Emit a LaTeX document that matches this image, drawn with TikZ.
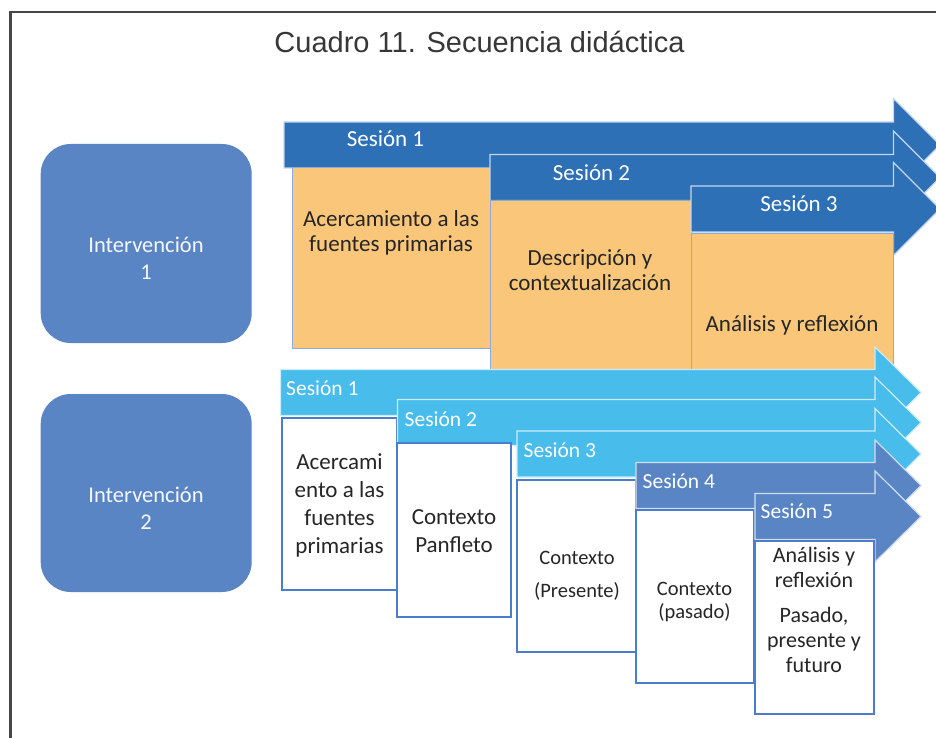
\documentclass[tikz,border=0pt]{standalone}
\usepackage{fontspec}
\setmainfont{Carlito}
\newfontfamily\titlefont{Liberation Sans}
\definecolor{darkblue}{RGB}{46,112,182}
\definecolor{orangebox}{RGB}{250,198,122}
\definecolor{lightblue}{RGB}{72,188,235}
\definecolor{midblue}{RGB}{90,133,196}
\definecolor{boxline}{RGB}{74,126,204}
\definecolor{orangeline}{RGB}{140,170,220}
\definecolor{framegray}{RGB}{70,70,70}
\definecolor{titlegray}{RGB}{55,55,55}
\definecolor{txtgray}{RGB}{38,38,38}
\newcommand\sesarrow[6]{% color, left x, center y, base x, tip x, head half
  \filldraw[fill=#1, draw=white!72!#1, line width=1.2pt, line join=miter]
    (#2,#3-23) -- (#4,#3-23) -- (#4,#3-#6) -- (#5,#3) -- (#4,#3+#6)
    -- (#4,#3+23) -- (#2,#3+23) -- cycle;}
\begin{document}
\begin{tikzpicture}[x=1pt,y=-1pt,
  ibox/.style={fill=midblue, rounded corners=30pt, inner sep=0pt, outer sep=0pt},
  itext/.style={text=white!94!midblue, align=center, font=\fontsize{22.5}{27}\selectfont},
  obox/.style={fill=orangebox, draw=orangeline, line width=0.9pt, inner sep=0pt, outer sep=0pt},
  wbox/.style={fill=white, draw=boxline, line width=1.4pt, inner sep=0pt, outer sep=0pt},
  btext/.style={text=txtgray, align=center, inner sep=0pt},
  slabel/.style={text=white, inner sep=0pt, font=\fontsize{23}{26}\selectfont},
  llabel/.style={text=white, inner sep=0pt, anchor=west, font=\fontsize{21.5}{24}\selectfont}]
\useasboundingbox (0,0) rectangle (936,738);
\fill[white] (0,0) rectangle (936,738);
% frame
\draw[framegray, line width=2.5pt] (10.3,738) -- (10.3,12) -- (937,12);
% title
\node[anchor=base, text=titlegray, inner sep=0pt, font=\titlefont\fontsize{29}{34}\selectfont] (title) at (479.5,53) {Cuadro 11. Secuencia didáctica};
% intervention boxes
\node[ibox, minimum width=211pt, minimum height=199pt] (i1) at (146.2,243.5) {};
\node[itext] (i1t) at (146,258) {Intervención\\1};
\node[ibox, minimum width=211pt, minimum height=198pt] (i2) at (146.2,493) {};
\node[itext] (i2t) at (146,508) {Intervención\\2};
% intervention 1
\sesarrow{darkblue}{284}{145}{893.5}{940}{46.5}
\node[slabel] (u1) at (385.5,139) {Sesión 1};
\node[obox, minimum width=198pt, minimum height=181pt] (b1) at (391,257.5) {};
\sesarrow{darkblue}{490}{177.5}{893.5}{940}{46.5}
\node[slabel] (u2) at (591.5,172.5) {Sesión 2};
\node[obox, minimum width=201pt, minimum height=169pt] (b2) at (590.5,284.5) {};
\sesarrow{darkblue}{691}{209}{893.5}{940}{46.5}
\node[slabel] (u3) at (799,204) {Sesión 3};
\node[obox, minimum width=202.5pt, minimum height=136pt] (b3) at (792.2,301) {};
\node[btext, font=\fontsize{23}{25}\selectfont] (b1t) at (391,233) {Acercamiento a las\\fuentes primarias};
\node[btext, font=\fontsize{23}{25}\selectfont] (b2t) at (590,270) {Descripción y\\contextualización};
\node[btext, font=\fontsize{23}{25}\selectfont] (b3t) at (792,325.5) {Análisis y reflexión};
% intervention 2
\sesarrow{lightblue}{280.5}{392.5}{875}{921}{45.5}
\node[llabel] (l1) at (286,388) {Sesión 1};
\node[wbox, minimum width=115pt, minimum height=172pt] (c1) at (339.5,504) {};
\sesarrow{lightblue}{397.5}{422.5}{875}{921}{45.5}
\node[llabel] (l2) at (404.5,419) {Sesión 2};
\node[wbox, minimum width=114pt, minimum height=174pt] (c2) at (454,530) {};
\sesarrow{lightblue}{517}{454}{875}{921}{45.5}
\node[llabel] (l3) at (523.5,450) {Sesión 3};
\node[wbox, minimum width=119pt, minimum height=172pt] (c3) at (576.5,566) {};
\sesarrow{midblue}{636}{485.5}{875}{921}{45.5}
\node[llabel] (l4) at (642.5,481.5) {Sesión 4};
\node[wbox, minimum width=118pt, minimum height=173pt] (c4) at (695,596.5) {};
\sesarrow{midblue}{755}{516.5}{875}{921}{45.5}
\node[llabel] (l5) at (760.5,511.5) {Sesión 5};
\node[wbox, minimum width=119pt, minimum height=173pt] (c5) at (814.5,627.5) {};
\node[btext, font=\fontsize{23}{28}\selectfont] (c1t) at (339.5,505) {Acercami\\ento a las\\fuentes\\primarias};
\node[btext, font=\fontsize{23}{28}\selectfont] (c2t) at (454,531) {Contexto\\Panfleto};
\node[btext, font=\fontsize{20.5}{33}\selectfont] (c3t) at (577,575.5) {Contexto\\(Presente)};
\node[btext, font=\fontsize{20.5}{22.5}\selectfont] (c4t) at (694.5,602) {Contexto\\(pasado)};
\node[btext, font=\fontsize{22}{25}\selectfont] (c5t) at (814,610) {Análisis y\\reflexión\\[10pt]Pasado,\\presente y\\futuro};
\end{tikzpicture}
\end{document}
